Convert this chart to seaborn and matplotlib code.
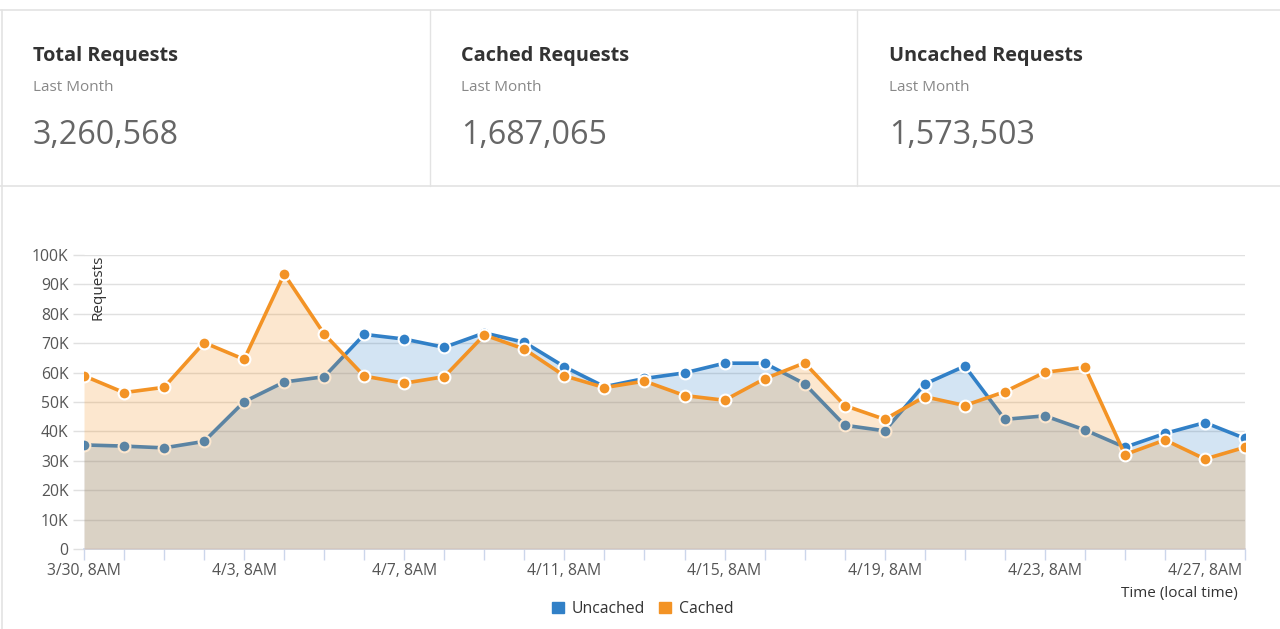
import pandas as pd
import matplotlib
matplotlib.use("Agg")
import matplotlib.pyplot as plt
import seaborn as sns
from matplotlib.lines import Line2D
from matplotlib.patches import Patch

# daily samples, 3/30 8AM .. 4/28 8AM
days = pd.date_range("2020-03-30 08:00", periods=30, freq="D")
tick_labels = [f"{d.month}/{d.day}, 8AM" for d in days]

uncached = [35.4, 35.0, 34.4, 36.6, 50.1, 56.8, 58.6, 73.0, 71.4, 68.6,
            73.5, 70.3, 62.0, 55.2, 58.0, 59.9, 63.2, 63.2, 56.2, 42.1,
            40.2, 56.1, 62.2, 44.1, 45.3, 40.5, 34.6, 39.3, 43.0, 37.6]
cached = [58.9, 53.2, 55.0, 70.2, 64.5, 93.5, 73.1, 58.8, 56.4, 58.6,
          72.8, 68.0, 58.9, 54.9, 57.1, 52.2, 50.6, 57.9, 63.3, 48.8,
          44.1, 51.8, 48.8, 53.5, 60.1, 61.8, 32.1, 37.1, 30.6, 34.6]

card_titles = ["Total Requests", "Cached Requests", "Uncached Requests"]
card_values = ["3,260,568", "1,687,065", "1,573,503"]

sns.set_theme(style="white")
plt.rcParams['font.family'] = ['Open Sans', 'DejaVu Sans']

W, H = 1280, 629
fig = plt.figure(figsize=(W / 100, H / 100), dpi=100)
fig.patch.set_facecolor("white")

def fx(px):
    return px / W

def fy(py):
    return 1 - py / H

# --- stat cards ---
border = "#e3e3e3"
fig.add_artist(Line2D([0, 1], [fy(10), fy(10)], color=border, lw=1.2))
fig.add_artist(Line2D([0, 1], [fy(186), fy(186)], color=border, lw=1.2))
fig.add_artist(Line2D([fx(2), fx(2)], [0, fy(10)], color=border, lw=1.2))
for xs in [430, 857]:
    fig.add_artist(Line2D([fx(xs), fx(xs)], [fy(10), fy(186)], color=border, lw=1))

for i, (t, v) in enumerate(zip(card_titles, card_values)):
    x0 = fx(33 + i * 428)
    fig.text(x0, fy(55.5), t, fontsize=14.3, fontweight="bold", color="#333333", va="center")
    fig.text(x0, fy(87.5), "Last Month", fontsize=11, color="#888888", va="center")
    fig.text(x0, fy(135), v, fontsize=23.2, color="#666666", va="center")

# --- chart ---
ax = fig.add_axes([fx(84), fy(549), fx(1245) - fx(84), fy(255) - fy(549)])
idx = list(range(len(days)))
blue = "#3180c7"
orange = "#f39325"

ax.fill_between(idx, uncached, 0, color=blue, alpha=0.21, lw=0, zorder=1)
sns.lineplot(x=idx, y=uncached, ax=ax, color=blue, lw=2.6, marker="o", markersize=8.5,
             markeredgecolor="white", markeredgewidth=1.5, zorder=2)
ax.fill_between(idx, cached, 0, color=orange, alpha=0.22, lw=0, zorder=3)
sns.lineplot(x=idx, y=cached, ax=ax, color=orange, lw=2.6, marker="o", markersize=8.5,
             markeredgecolor="white", markeredgewidth=1.5, zorder=4)

ax.set_xlim(0, len(days) - 1)
ax.set_ylim(0, 100)
yt = list(range(0, 101, 10))
ax.set_yticks(yt)
ax.set_yticklabels(["0"] + [f"{v}K" for v in yt[1:]], fontsize=11.3, color="#555555")
ax.set_xticks(idx)
ax.set_xticklabels([lab if i % 4 == 0 else "" for i, lab in enumerate(tick_labels)],
                   fontsize=11.3, color="#555555")
ax.grid(axis="y", color="#e0e0e0", lw=1, zorder=0)
ax.set_axisbelow(True)
for s in ["top", "right", "left"]:
    ax.spines[s].set_visible(False)
ax.spines["bottom"].set_color("#ccd6eb")
ax.tick_params(axis="x", length=8, color="#ccd6eb", width=1, direction="out", pad=2, bottom=True)
ax.tick_params(axis="y", length=8, color="#e0e0e0", width=1, pad=3, left=True)
ax.set_xlabel("")
ax.set_ylabel("")

fig.text(fx(98), fy(255), "Requests", rotation=90, fontsize=11, color="#333333",
         ha="center", va="top")
fig.text(fx(1238), fy(593), "Time (local time)", fontsize=11, color="#333333",
         ha="right", va="center")

handles = [Patch(color=blue, label="Uncached"), Patch(color=orange, label="Cached")]
fig.legend(handles=handles, loc="center", bbox_to_anchor=(fx(643), fy(609)), ncol=2,
           frameon=False, fontsize=11.3, handlelength=0.75, handleheight=0.75,
           columnspacing=0.9, handletextpad=0.5, labelcolor="#333333")

plt.savefig("out.png", dpi=100)
